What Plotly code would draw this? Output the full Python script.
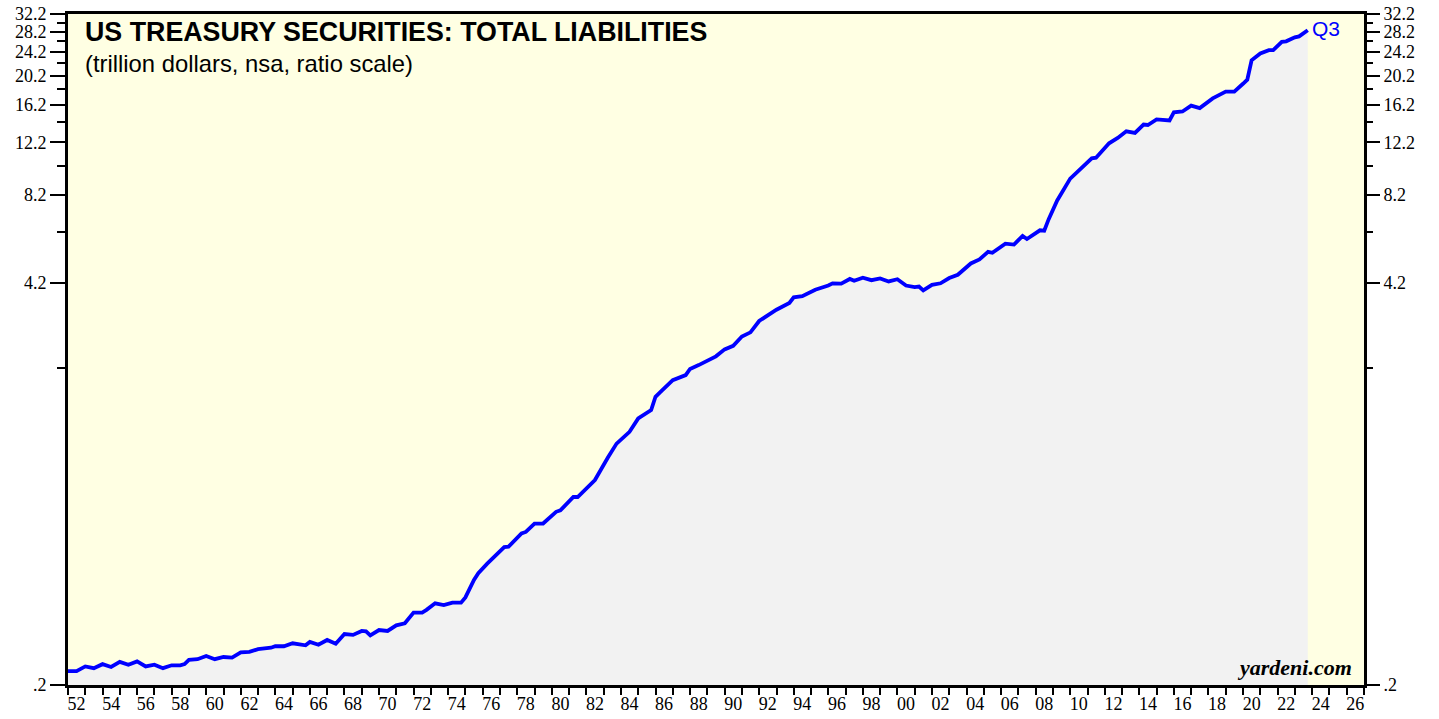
import numpy as np
import pandas as pd
import plotly.graph_objects as go

# US Treasury securities, total liabilities (trillion $)
quarters = [
    "1951Q4", "1952Q2", "1952Q4", "1953Q2", "1953Q4", "1954Q2", "1954Q4", "1955Q2",
    "1955Q4", "1956Q2", "1956Q4", "1957Q2", "1957Q4", "1958Q2", "1958Q3", "1958Q4",
    "1959Q2", "1959Q4", "1960Q2", "1960Q4", "1961Q2", "1961Q4", "1962Q2", "1962Q4",
    "1963Q3", "1963Q4", "1964Q2", "1964Q4", "1965Q3", "1965Q4", "1966Q2", "1966Q4",
    "1967Q2", "1967Q4", "1968Q2", "1968Q4", "1969Q1", "1969Q2", "1969Q4", "1970Q2",
    "1970Q4", "1971Q2", "1971Q4", "1972Q2", "1972Q3", "1973Q1", "1973Q3", "1974Q1",
    "1974Q3", "1974Q4", "1975Q2", "1975Q3", "1976Q1", "1977Q1", "1977Q2", "1978Q1",
    "1978Q2", "1978Q4", "1979Q2", "1980Q1", "1980Q2", "1981Q1", "1981Q2", "1982Q2",
    "1983Q1", "1983Q3", "1984Q2", "1984Q4", "1985Q3", "1985Q4", "1986Q1", "1986Q4",
    "1987Q3", "1987Q4", "1988Q2", "1989Q1", "1989Q2", "1989Q4", "1990Q2", "1990Q4",
    "1991Q2", "1991Q4", "1992Q4", "1993Q3", "1993Q4", "1994Q2", "1994Q4", "1995Q1",
    "1995Q4", "1996Q1", "1996Q3", "1997Q1", "1997Q2", "1997Q4", "1998Q2", "1998Q4",
    "1999Q2", "1999Q4", "2000Q2", "2000Q4", "2001Q1", "2001Q2", "2001Q4", "2002Q2",
    "2002Q4", "2003Q2", "2004Q1", "2004Q3", "2005Q1", "2005Q2", "2006Q1", "2006Q3",
    "2007Q1", "2007Q2", "2008Q1", "2008Q2", "2008Q3", "2009Q1", "2009Q4", "2011Q1",
    "2011Q2", "2012Q1", "2012Q3", "2013Q1", "2013Q3", "2014Q1", "2014Q2", "2014Q4",
    "2015Q3", "2015Q4", "2016Q2", "2016Q4", "2017Q2", "2018Q1", "2018Q4", "2019Q2",
    "2019Q4", "2020Q1", "2020Q2", "2020Q4", "2021Q2", "2021Q3", "2022Q1", "2022Q2",
    "2022Q4", "2023Q1", "2023Q3",
]
liabilities = [
    0.222, 0.222, 0.230, 0.227, 0.234, 0.229, 0.238, 0.233,
    0.239, 0.230, 0.233, 0.227, 0.232, 0.232, 0.234, 0.2416,
    0.243, 0.249, 0.243, 0.247, 0.246, 0.256, 0.257, 0.262,
    0.265, 0.268, 0.268, 0.274, 0.270, 0.277, 0.271, 0.281,
    0.273, 0.294, 0.292, 0.301, 0.300, 0.291, 0.303, 0.301,
    0.314, 0.319, 0.346, 0.346, 0.353, 0.371, 0.366, 0.373,
    0.373, 0.388, 0.443, 0.466, 0.500, 0.568, 0.570, 0.630,
    0.637, 0.679, 0.679, 0.742, 0.750, 0.830, 0.830, 0.944,
    1.12, 1.244, 1.36, 1.505, 1.603, 1.774, 1.83, 2.011,
    2.09, 2.19, 2.255, 2.38, 2.41, 2.54, 2.61, 2.80,
    2.89, 3.15, 3.43, 3.61, 3.77, 3.80, 3.93, 3.99,
    4.12, 4.19, 4.18, 4.33, 4.27, 4.37, 4.29, 4.35,
    4.25, 4.32, 4.12, 4.07, 4.09, 3.97, 4.14, 4.19,
    4.36, 4.47, 4.87, 5.02, 5.32, 5.28, 5.66, 5.62,
    6.00, 5.86, 6.26, 6.24, 6.80, 7.85, 9.26, 10.8,
    10.85, 12.1, 12.6, 13.25, 13.1, 13.95, 13.9, 14.5,
    14.39, 15.3, 15.4, 16.1, 15.8, 17.0, 17.9, 17.9,
    19.0, 19.6, 22.7, 23.9, 24.5, 24.5, 26.1, 26.2,
    27.0, 27.2, 28.5,
]

y_ticks = [0.2, 4.2, 8.2, 12.2, 16.2, 20.2, 24.2, 28.2, 32.2]
y_ticktext = [".2", "4.2", "8.2", "12.2", "16.2", "20.2", "24.2", "28.2", "32.2"]
y_minor = [2.2, 6.2, 10.2, 14.2, 18.2, 22.2, 26.2, 30.2]
label_years = list(range(1952, 2027, 2))

dates = [pd.Period(q, freq="Q").end_time.normalize() for q in quarters]
x_tickvals = [f"{y}-07-01" for y in label_years]
x_ticktext = [f"{y % 100:02d}" for y in label_years]

BG = "#ffffe3"
FILL = "#f2f2f2"
BLUE = "#0000ff"
TICKFONT = dict(family="Liberation Serif", size=18, color="black")

fig = go.Figure()
fig.add_trace(go.Scatter(x=dates, y=liabilities, mode="lines",
                         line=dict(color=BLUE, width=3.8),
                         fill="tozeroy", fillcolor=FILL,
                         showlegend=False, hoverinfo="x+y"))
# invisible copy so the right-hand axis gets drawn
fig.add_trace(go.Scatter(x=dates, y=liabilities, mode="lines", yaxis="y2",
                         line=dict(color="rgba(0,0,0,0)", width=0),
                         showlegend=False, hoverinfo="skip"))

# tiny pad at both ends so the .2 and 32.2 ticks are not dropped
yrange = [np.log10(0.2) - 0.0004, np.log10(32.2) + 0.0004]
yaxis_common = dict(
    type="log", range=yrange, tickmode="array", tickvals=y_ticks, ticktext=y_ticktext,
    ticks="outside", ticklen=15, tickwidth=1.5, tickcolor="black",
    tickfont=TICKFONT, showgrid=False, zeroline=False, automargin=False,
    minor=dict(tickmode="array", tickvals=y_minor, ticks="outside",
               ticklen=8, tickwidth=1.5, tickcolor="black", showgrid=False),
)

fig.update_layout(
    width=1439, height=719,
    margin=dict(l=68, r=75, t=14, b=34),
    paper_bgcolor="white", plot_bgcolor=BG,
    xaxis=dict(
        type="date", range=["1952-01-01", "2027-01-01"],
        tickmode="array", tickvals=x_tickvals, ticktext=x_ticktext,
        ticks="", tickfont=TICKFONT, showgrid=False, zeroline=False, automargin=False,
        showline=True, linecolor="black", linewidth=3, mirror=True,
        minor=dict(dtick="M12", tick0="1952-01-01", ticks="outside",
                   ticklen=7, tickwidth=2, tickcolor="black", showgrid=False),
    ),
    yaxis=dict(side="left", showline=True, linecolor="black", linewidth=3,
               mirror=True, **yaxis_common),
    yaxis2=dict(side="right", overlaying="y", showline=False, **yaxis_common),
    annotations=[
        dict(xref="paper", yref="paper", x=0.0115, y=0.998, xanchor="left", yanchor="top",
             text="<b>US TREASURY SECURITIES: TOTAL LIABILITIES</b>", showarrow=False,
             font=dict(family="Liberation Sans", size=26.8, color="black")),
        dict(xref="paper", yref="paper", x=0.0115, y=0.949, xanchor="left", yanchor="top",
             text="(trillion dollars, nsa, ratio scale)", showarrow=False,
             font=dict(family="Liberation Sans", size=23.8, color="black")),
        dict(xref="x", yref="y", x=dates[-1], y=np.log10(liabilities[-1]),
             xanchor="left", yanchor="middle", xshift=2, yshift=2,
             text="Q3", showarrow=False,
             font=dict(family="Liberation Sans", size=21, color=BLUE)),
        dict(xref="paper", yref="paper", x=0.992, y=0.004, xanchor="right", yanchor="bottom",
             text="<b><i>yardeni.com</i></b>", showarrow=False,
             font=dict(family="Liberation Serif", size=22, color="black")),
    ],
)

# drop the default page margin so the figure sits flush in the window
fig.write_html("out.html", config={"displayModeBar": False},
               post_script="document.body.style.margin = '0';")
